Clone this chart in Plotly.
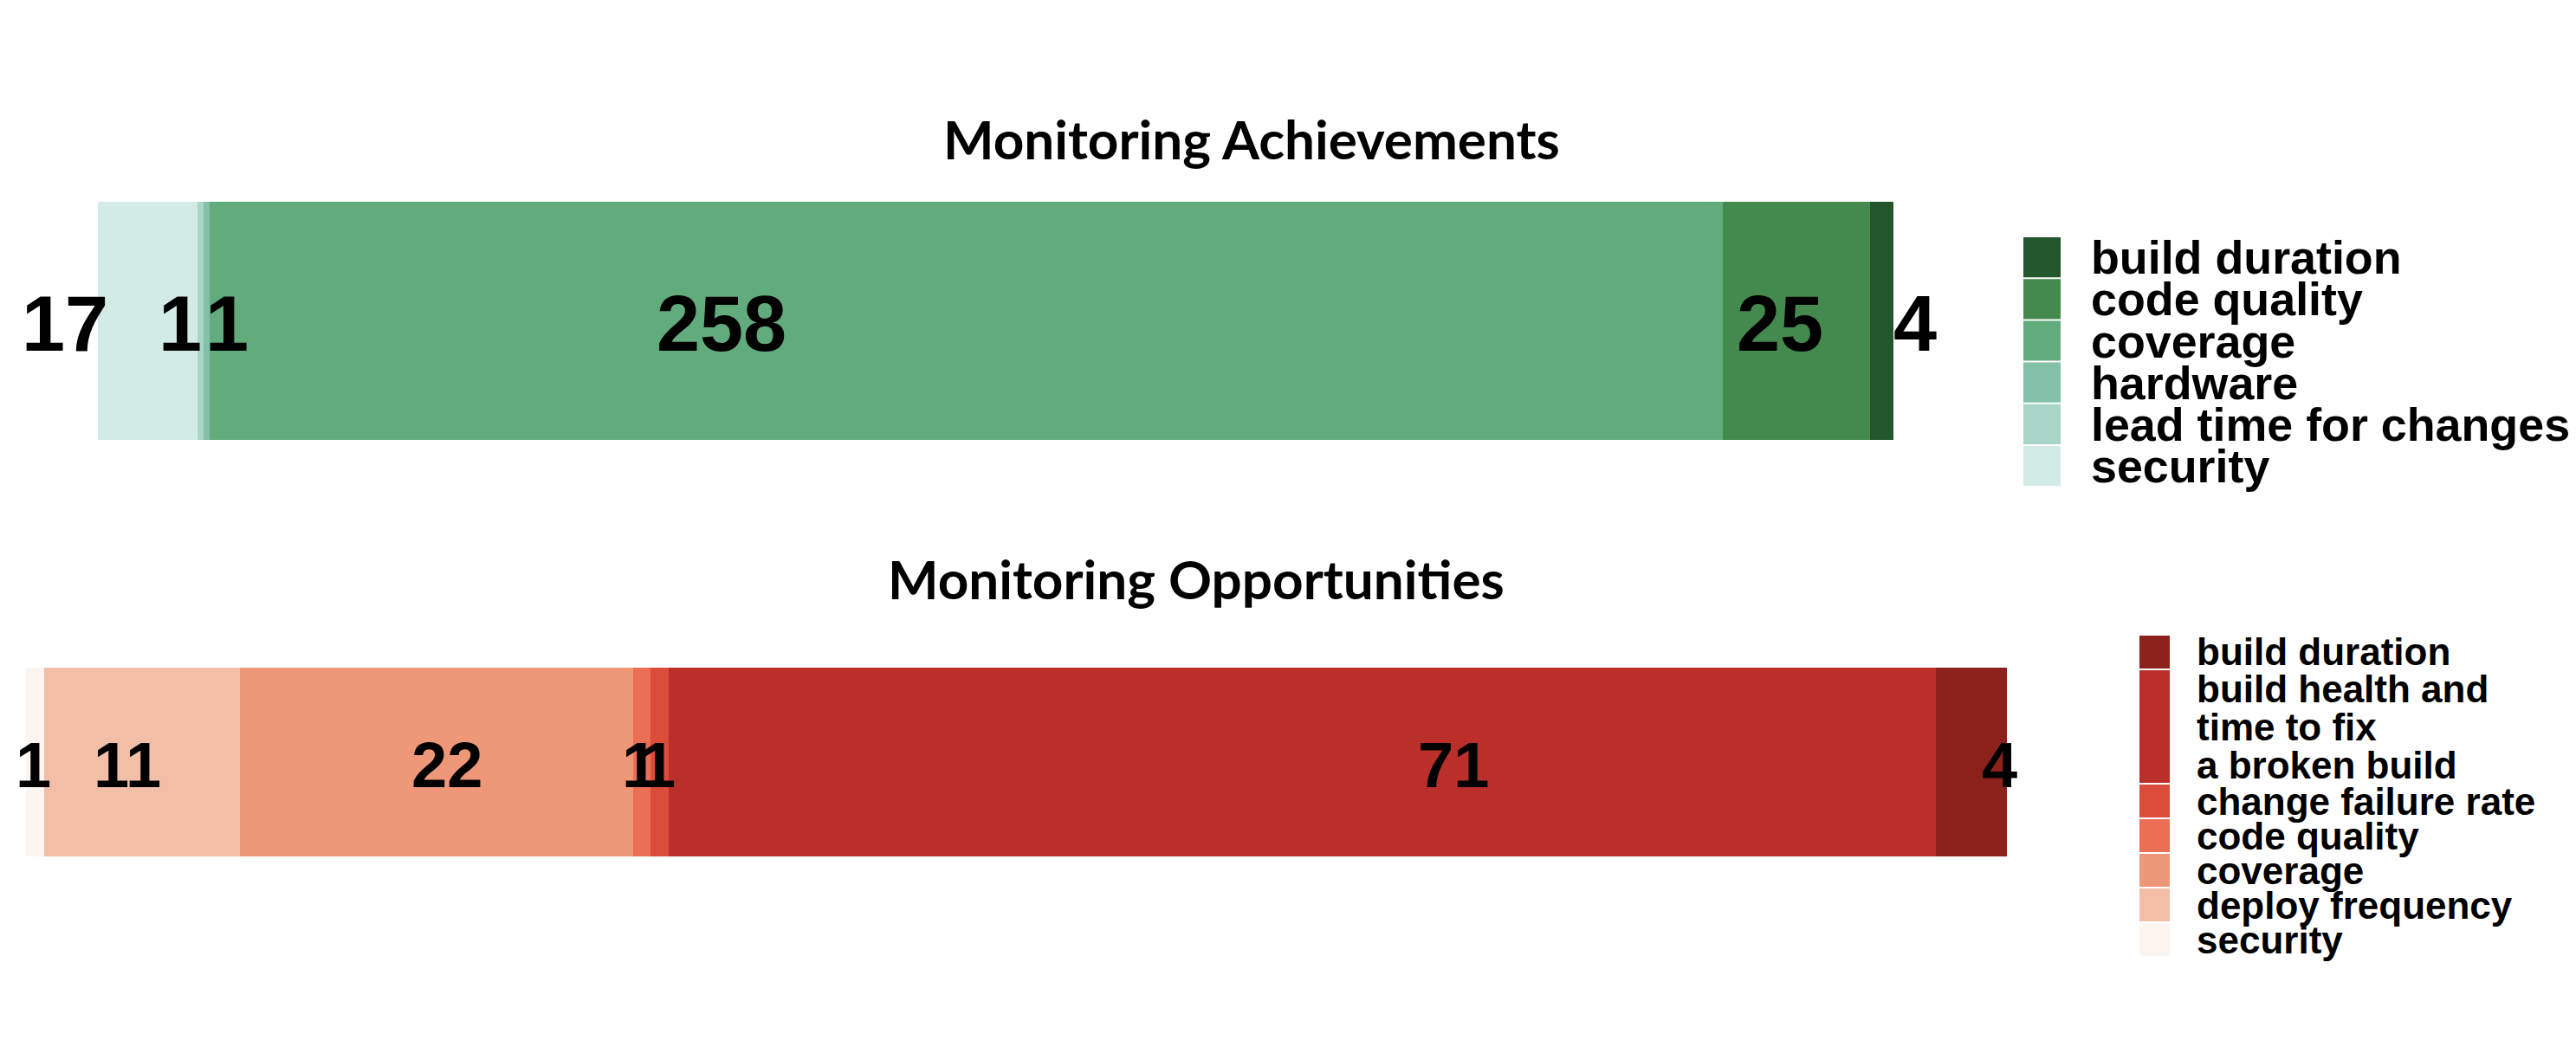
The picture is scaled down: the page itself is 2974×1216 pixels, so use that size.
import plotly.graph_objects as go

W, H = 2974, 1216

# ---------------------------------------------------------------------------
# data
# ---------------------------------------------------------------------------
ach_title = "Monitoring Achievements"
ach_categories = ["security", "lead time for changes", "hardware",
                  "coverage", "code quality", "build duration"]
ach_counts = [17, 1, 1, 258, 25, 4]
ach_colors = ["#d3ebe6", "#a8d5c8", "#82c0a7", "#62ab7d", "#44894d", "#24562b"]
# where the count labels sit along the bar (data units)
ach_label_x = [-5.6, 14.0, 22.0, 106.3, 286.6, 309.7]

opp_title = "Monitoring Opportunities"
opp_categories = ["security", "deploy frequency", "coverage", "code quality",
                  "change failure rate",
                  "build health and\ntime to fix\na broken build",
                  "build duration"]
opp_counts = [1, 11, 22, 1, 1, 71, 4]
opp_colors = ["#fdf5f0", "#f2bea8", "#ee9779", "#eb6f55", "#dc4c3b", "#ba2f2a", "#8c221c"]
opp_label_x = [0.4, 5.7, 23.6, 34.4, 35.4, 80.0, 110.6]


def px_x(v):
    return v / W


def px_y(v):
    return 1 - v / H


BOLD = dict(family="Liberation Sans, Arial, sans-serif", color="black", weight="bold")
PAD = 14        # extra axis room (data units) so outside labels are not dropped
TEXT_DROP = 3   # count labels sit a little below the bar middle (px)

fig = go.Figure()
shapes, annotations = [], []

# ── bars + count labels ─────────────────────────────────────────────────
panels = [
    (ach_title, ach_categories, ach_counts, ach_colors, ach_label_x, "x", "y", 90),
    (opp_title, opp_categories, opp_counts, opp_colors, opp_label_x, "x2", "y2", 74),
]
for title, cats, counts, colors, label_x, xa, ya, fsize in panels:
    for cat, n, col in zip(cats, counts, colors):
        fig.add_trace(go.Bar(
            x=[n], y=[title], orientation="h",
            name=cat, width=1,
            marker=dict(color=col, line=dict(width=0)),
            xaxis=xa, yaxis=ya, showlegend=False, hoverinfo="skip",
        ))
    for lx, n in zip(label_x, counts):
        annotations.append(dict(
            text=str(n), x=lx, y=0, xref=xa, yref=ya,
            xanchor="center", yanchor="middle", yshift=-TEXT_DROP,
            showarrow=False, font=dict(BOLD, size=fsize),
        ))

# ── hand-made legends ─────────────────────────────────────────────────────
def draw_legend(cats, colors, sq_x0, sq_x1, text_x, top, row_h, line_h, fsize):
    y = top
    for cat, col in zip(reversed(cats), reversed(colors)):
        lines = cat.split("\n")
        h = row_h if len(lines) == 1 else len(lines) * line_h
        shapes.append(dict(
            type="rect", xref="paper", yref="paper",
            x0=px_x(sq_x0), x1=px_x(sq_x1), y0=px_y(y + h - 1), y1=px_y(y + 1),
            fillcolor=col, line=dict(width=0),
        ))
        for i, ln in enumerate(lines):
            cy = y + h / 2 if len(lines) == 1 else y + (i + 0.5) * line_h
            annotations.append(dict(
                text=ln, xref="paper", yref="paper",
                x=px_x(text_x), y=px_y(cy), xanchor="left", yanchor="middle",
                showarrow=False, font=dict(BOLD, size=fsize),
            ))
        y += h

draw_legend(ach_categories, ach_colors, 2336, 2379, 2412, 273, 48.2, 48.2, 53.8)
draw_legend(opp_categories, opp_colors, 2470, 2505, 2534, 733, 40, 44, 44)

# ── titles ──────────────────────────────────────────────────────────────
for text, cx, cy in [(ach_title, 1445, 160), (opp_title, 1381, 668)]:
    annotations.append(dict(
        text=text, xref="paper", yref="paper", x=px_x(cx), y=px_y(cy),
        xanchor="center", yanchor="middle", showarrow=False,
        font=dict(family="Lato, Open Sans, sans-serif", size=62, color="black", weight="bold"),
    ))


# ── layout ──────────────────────────────────────────────────────────────
def axis_span(px0, px1, total):
    # bar fills px0..px1; axis is widened by PAD units on both sides
    per = (px1 - px0) / total
    return [px_x(px0 - PAD * per), px_x(px1 + PAD * per)], [-PAD, total + PAD]


ach_dom, ach_rng = axis_span(113, 2186, sum(ach_counts))
opp_dom, opp_rng = axis_span(30, 2317, sum(opp_counts))
opp_dom[0] = 0.0
opp_rng[0] = -(30 / ((2317 - 30) / sum(opp_counts)))

axis_off = dict(visible=False, showgrid=False, zeroline=False, fixedrange=True)
fig.update_layout(
    width=W, height=H,
    margin=dict(l=0, r=0, t=0, b=0),
    paper_bgcolor="white", plot_bgcolor="white",
    barmode="stack", bargap=0,
    showlegend=False,
    xaxis=dict(axis_off, domain=ach_dom, range=ach_rng),
    yaxis=dict(axis_off, type="category", domain=[px_y(508), px_y(233)], range=[-0.5, 0.5]),
    xaxis2=dict(axis_off, domain=opp_dom, range=opp_rng, anchor="y2"),
    yaxis2=dict(axis_off, type="category", domain=[px_y(989), px_y(771)],
                range=[-0.5, 0.5], anchor="x2"),
    shapes=shapes,
    annotations=annotations,
)

fig.write_html("out.html", config={"displayModeBar": False},
               post_script="document.body.style.margin='0';")
